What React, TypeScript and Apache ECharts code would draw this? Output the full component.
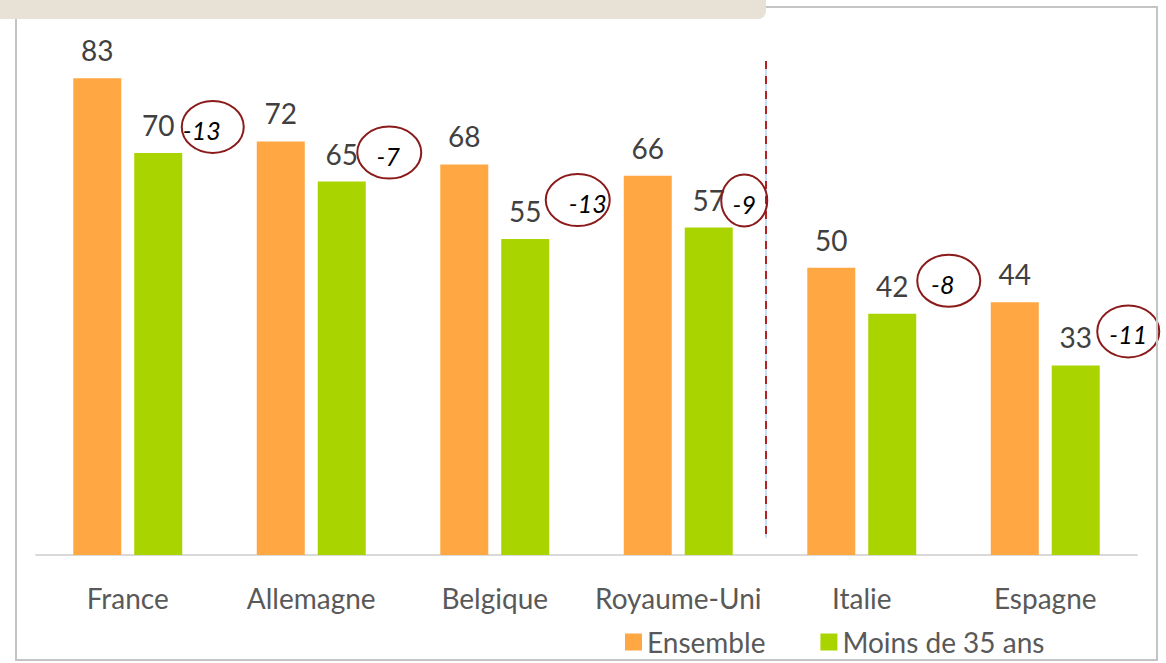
import React, { useEffect, useRef } from "react";
import * as echarts from "echarts";

const categories = ["France", "Allemagne", "Belgique", "Royaume-Uni", "Italie", "Espagne"];
const ensemble = [83, 72, 68, 66, 50, 44];
const moins35 = [70, 65, 55, 57, 42, 33];
const seriesNames = ["Ensemble", "Moins de 35 ans"];

// annotation placement (pixels relative to category centre / green bar top)
const ellipseDx = [85, 78, 83, 66, 87, 83];
const ellipseDy = [-26, -29, -39, -27, -33, -34];
const ellipseRx = [31, 32, 32, 23, 31.5, 31];
const textDx = [-11, -1, 10, 0, -6, 0];

const ORANGE = "#FFA843";
const GREEN = "#AAD400";
const FONT = "Lato, 'Open Sans', sans-serif";

export default function App() {
  const ref = useRef<HTMLDivElement>(null);
  useEffect(() => {
    const chart = echarts.init(ref.current!, null, { renderer: "svg" });
    const diffs = moins35.map((v, i) => v - ensemble[i]);
    chart.setOption({
      animation: false,
      backgroundColor: "#ffffff",
      grid: { left: 36, right: 29, top: 38, bottom: 108 },
      legend: {
        data: seriesNames,
        left: 625,
        top: 627,
        padding: 0,
        icon: "rect",
        itemWidth: 17,
        itemHeight: 17,
        itemGap: 55,
        textStyle: { fontSize: 28, lineHeight: 30, color: "#595959", fontFamily: FONT },
      },
      xAxis: {
        type: "category",
        data: categories,
        axisLine: { lineStyle: { color: "#D9D9D9", width: 2 } },
        axisTick: { show: false },
        axisLabel: { interval: 0, fontSize: 28, color: "#595959", fontFamily: FONT, margin: 29 },
      },
      yAxis: { type: "value", min: 0, max: 90, show: false, splitLine: { show: false } },
      series: [
        {
          name: seriesNames[0],
          type: "bar",
          data: ensemble,
          barWidth: 48,
          barGap: "27%",
          itemStyle: { color: ORANGE },
          label: { show: true, position: "top", distance: 14, fontSize: 28, color: "#404040", fontFamily: FONT },
        },
        {
          name: seriesNames[1],
          type: "bar",
          data: moins35,
          barWidth: 48,
          itemStyle: { color: GREEN },
          label: { show: true, position: "top", distance: 14, fontSize: 28, color: "#404040", fontFamily: FONT },
        },
        {
          type: "custom",
          z: 10,
          data: moins35.map((v, i) => [i, v, diffs[i]]),
          renderItem: (params: any, api: any) => {
            const i = api.value(0);
            const v = api.value(1);
            const d = api.value(2);
            const p = api.coord([i, v]);
            const cx = p[0] + ellipseDx[i];
            const cy = p[1] + ellipseDy[i];
            return {
              type: "group",
              children: [
                {
                  type: "ellipse",
                  shape: { cx, cy, rx: ellipseRx[i], ry: 26 },
                  style: { fill: "transparent", stroke: "#8B1A1A", lineWidth: 2 },
                },
                {
                  type: "text",
                  style: {
                    text: String(d),
                    x: cx + textDx[i],
                    y: cy + 3,
                    align: "center",
                    verticalAlign: "middle",
                    fontSize: 25,
                    fontStyle: "italic",
                    fontFamily: FONT,
                    fill: "#000000",
                  },
                },
              ],
            };
          },
        },
        {
          type: "custom",
          z: 9,
          data: [[3, 86, 3]],
          renderItem: (params: any, api: any) => {
            const i = api.value(0);
            const top = api.coord([i, api.value(1)]);
            const bot = api.coord([i, api.value(2)]);
            const x = top[0] + api.size([1, 0])[0] / 2 - 4;
            return {
              type: "group",
              children: [
                {
                  type: "line",
                  shape: { x1: x, y1: top[1], x2: x, y2: bot[1] },
                  style: { stroke: "#8DBFEA", lineWidth: 1 },
                },
                {
                  type: "line",
                  shape: { x1: x, y1: top[1], x2: x, y2: bot[1] },
                  style: { stroke: "#B22222", lineWidth: 2, lineDash: [8, 7] },
                },
              ],
            };
          },
        },
      ],
      graphic: [
        {
          type: "rect",
          z: 100,
          shape: { x: 16, y: 7, width: 1141, height: 653 },
          style: { fill: "transparent", stroke: "#C4C4C4", lineWidth: 2 },
        },
        {
          type: "rect",
          z: 101,
          shape: { x: -10, y: -12, width: 776, height: 31, r: 8 },
          style: { fill: "#E8E1D5" },
        },
      ],
    });
    return () => chart.dispose();
  }, []);
  return (
    <div
      ref={ref}
      style={{ position: "fixed", left: 0, top: 0, width: 1166, height: 663 }}
    />
  );
}
